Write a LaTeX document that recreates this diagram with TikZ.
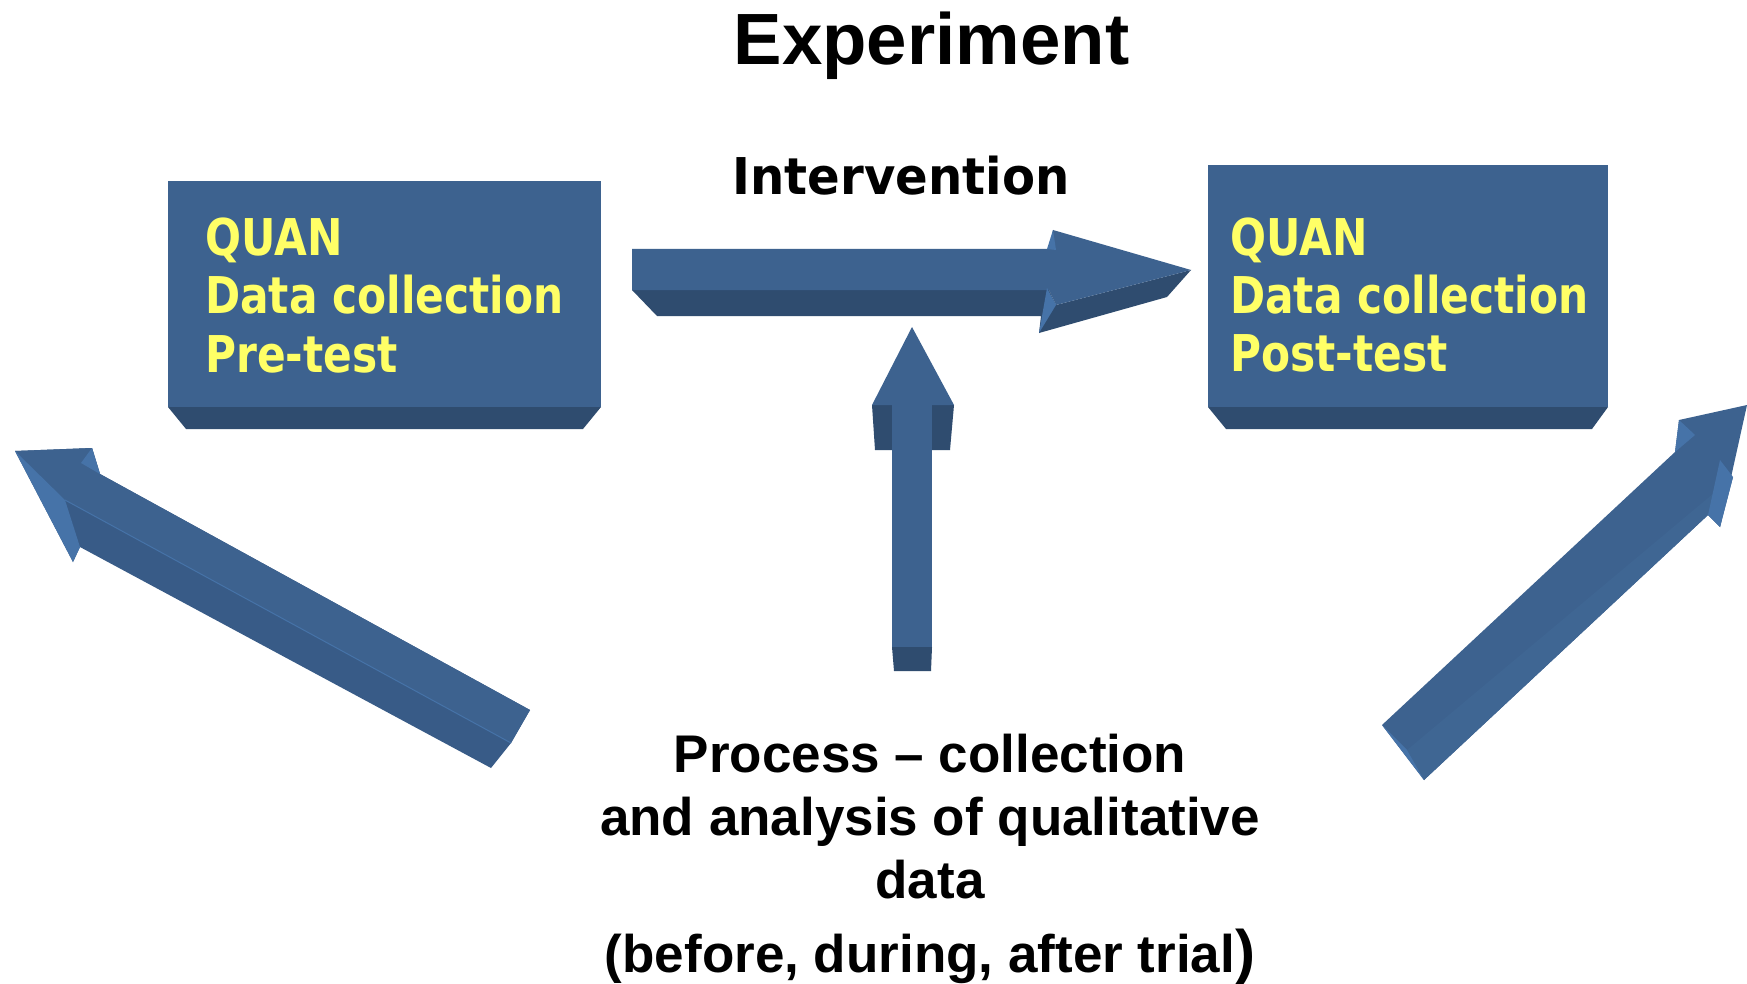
\documentclass[tikz,border=0pt]{standalone}
\usepackage{fontspec}
\newfontfamily\arialfont{Liberation Sans}
\newfontfamily\boxfont[FakeStretch=0.835]{DejaVu Sans}
\newfontfamily\intfont[FakeStretch=0.95]{DejaVu Sans}
\definecolor{face}{RGB}{61,98,143}
\definecolor{facetwo}{RGB}{63,102,147}
\definecolor{bevel}{RGB}{47,76,111}
\definecolor{hilite}{RGB}{70,115,168}
\definecolor{lowface}{RGB}{56,91,135}
\definecolor{quanyellow}{RGB}{255,255,102}
\begin{document}
\begin{tikzpicture}[x=1pt,y=-1pt,
  facefill/.style={fill=face},
  facetwofill/.style={fill=facetwo},
  bevelfill/.style={fill=bevel},
  hifill/.style={fill=hilite},
  lowfill/.style={fill=lowface},
  boxtext/.style={anchor=base west, inner sep=0pt, text=quanyellow,
    font=\boxfont\bfseries\fontsize{50.7}{60}\selectfont},
  bottomtext/.style={anchor=base, inner sep=0pt,
    font=\arialfont\bfseries\fontsize{53}{60}\selectfont},
  titletext/.style={anchor=base, inner sep=0pt,
    font=\arialfont\bfseries\fontsize{72.6}{80}\selectfont},
  intertext/.style={anchor=base, inner sep=0pt,
    font=\intfont\bfseries\fontsize{50.7}{60}\selectfont}
]
\useasboundingbox[fill=white] (0,0) rectangle (1747,984);

% ---- left box (pre-test)
\fill[facefill] (168,181) rectangle (601,407);
\fill[bevelfill] (168,407) -- (601,407) -- (583,429) -- (186,429) -- cycle;
\node[boxtext] (preA) at (205,255) {QUAN};
\node[boxtext] (preB) at (205,313) {Data collection};
\node[boxtext] (preC) at (205,372) {Pre-test};

% ---- right box (post-test)
\fill[facefill] (1208,165) rectangle (1608,407);
\fill[bevelfill] (1208,407) -- (1608,407) -- (1592,429) -- (1226,429) -- cycle;
\node[boxtext] (postA) at (1230,255) {QUAN};
\node[boxtext] (postB) at (1230,313) {Data collection};
\node[boxtext] (postC) at (1230,371) {Post-test};

% ---- horizontal arrow (intervention)
\fill[bevelfill] (632,290) -- (657,316) -- (1041,316) -- (1039,333) -- (1167,297)
  -- (1191,270) -- (1056,305) -- (1049,290) -- cycle;
\fill[facefill] (632,249) -- (1049,249) -- (1053,230) -- (1191,270) -- (1056,305)
  -- (1049,290) -- (632,290) -- cycle;
\fill[hifill] (1047,249) -- (1053,230) -- (1056,250) -- cycle;
\fill[hifill] (1047,288) -- (1056,305) -- (1039,333) -- cycle;

% ---- vertical arrow
\fill[bevelfill] (872,405) -- (954,405) -- (950,450) -- (875,450) -- cycle;
\fill[facefill] (912,327) -- (954,405) -- (872,405) -- cycle;
\fill[facefill] (892,404) rectangle (932,647);
\fill[bevelfill] (892,647) -- (932,647) -- (931,671) -- (894,671) -- cycle;

% ---- left diagonal arrow
\fill[lowfill] (15,451) -- (92,448) -- (100,474) -- (530,710) -- (511,743)
  -- (491,768) -- (80,547) -- (73,562) -- cycle;
\fill[facefill] (15,451) -- (92,448) -- (100,474) -- (530,710) -- (511,743)
  -- (65,500) -- cycle;
\fill[hifill] (15,451) -- (65,500) -- (80,547) -- (73,562) -- cycle;
\fill[hifill] (81,463) -- (92,448) -- (100,474) -- cycle;
\draw[hilite, line width=1pt] (65,500) -- (511,743);

% ---- right diagonal arrow
\fill[facefill] (1382,725) -- (1675,452) -- (1679,420) -- (1747,405) -- (1720,527)
  -- (1708,515) -- (1424,780) -- cycle;
\fill[facetwofill] (1407,750) -- (1733,477) -- (1720,527) -- (1708,515) -- (1424,780) -- cycle;
\fill[hifill] (1679,420) -- (1695,435) -- (1675,452) -- cycle;
\fill[hifill] (1720,460) -- (1733,477) -- (1720,527) -- (1708,515) -- cycle;
\fill[hifill] (1382,725) -- (1407,750) -- (1424,780) -- cycle;

% ---- texts
\node[titletext] (title) at (931.5,65) {Experiment};
\node[intertext] (interv) at (901,195) {Intervention};
\node[bottomtext] (procA) at (930,772) {Process – collection};
\node[bottomtext] (procB) at (930,835) {and analysis of qualitative};
\node[bottomtext] (procC) at (930,898) {data};
\node[bottomtext] (procD) at (930,972) {(before, during, after trial{\fontsize{60}{60}\selectfont)}};
\end{tikzpicture}
\end{document}
